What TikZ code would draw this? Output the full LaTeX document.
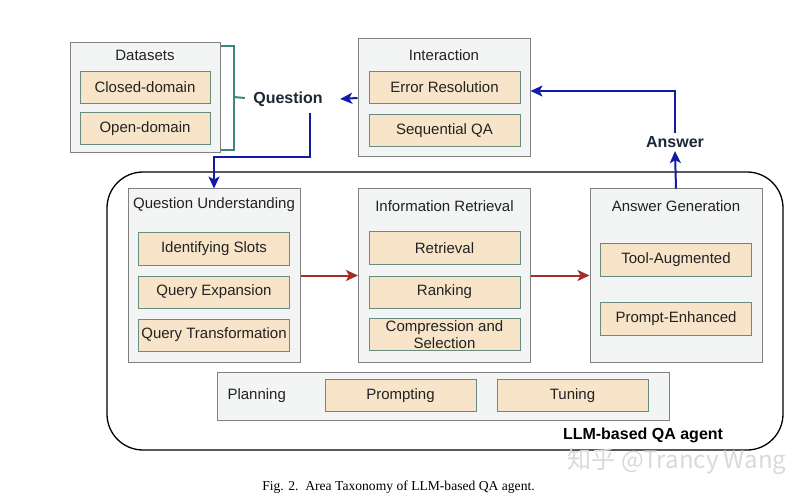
\documentclass[tikz,border=0pt]{standalone}
\usepackage{fontspec}
\setmainfont{Liberation Sans}
\newfontfamily\capfont{Liberation Serif}
\newfontfamily\cjk{Noto Sans CJK SC}
\usetikzlibrary{arrows.meta}
\definecolor{boxgray}{RGB}{243,244,244}
\definecolor{edgegray}{RGB}{128,128,128}
\definecolor{itemfill}{RGB}{248,228,200}
\definecolor{itemedge}{RGB}{105,140,128}
\definecolor{txtdark}{RGB}{34,34,34}
\definecolor{navy}{RGB}{28,40,56}
\definecolor{arrblue}{RGB}{16,28,165}
\definecolor{arrred}{RGB}{165,45,40}
\definecolor{brkteal}{RGB}{60,135,125}

\begin{document}
\begin{tikzpicture}[x=1pt,y=-1pt,
  font=\fontsize{15}{17}\selectfont,text=txtdark,
  grp/.style={draw=edgegray,fill=boxgray,line width=1pt,inner sep=0pt,
    minimum width=172pt,minimum height=173pt},
  item/.style={draw=itemedge,fill=itemfill,line width=1pt,inner sep=0pt,
    minimum width=151pt,minimum height=32pt,align=center},
  tag/.style={font=\fontsize{16}{18}\selectfont\bfseries,text=navy},
  bluearr/.style={draw=arrblue,line width=2pt,-{Stealth[length=12pt,width=11pt,inset=3pt]}},
  redarr/.style={draw=arrred,line width=2pt,-{Stealth[length=12pt,width=11pt,inset=3pt]}}]
\useasboundingbox (0,0) rectangle (812,500);
% ---- 外框 LLM-based QA agent ----
\node[draw=black,line width=1.3pt,rounded corners=36pt,minimum width=676pt,
  minimum height=278pt] (agent) at (445,311) {};
\node[tag,text=black] (agentlbl) at (643,435) {LLM-based QA agent};
% ---- Datasets ----
\node[grp,minimum width=150pt,minimum height=110pt] (ds) at (145,98) {};
\node (dstitle) at (145,55) {Datasets};
\foreach \t/\y [count=\i] in {Closed-domain/87.5,Open-domain/129}{
  \node[item,minimum width=130pt] (ds\i) at (145,\y) {\t};}
\node[tag] (q) at (288,99) {Question};
\draw[brkteal,line width=2pt] ([yshift=-4pt]ds.north east) -- ++(13,0)
  -- ([xshift=13pt,yshift=3pt]ds.south east) -- ([yshift=3pt]ds.south east);
\draw[brkteal,line width=2pt] ([xshift=13pt,yshift=1pt]ds.east) -- ([xshift=-5pt,yshift=1pt]q.west);
% ---- Interaction ----
\node[grp,minimum height=118pt] (inter) at (444,98) {};
\node (intertitle) at (444,55) {Interaction};
\foreach \t/\y [count=\i] in {Error Resolution/87.5,Sequential QA/131}{
  \node[item] (inter\i) at (444.5,\y) {\t};}
\node[tag] (ans) at (675,142) {Answer};
% ---- 三个阶段 ----
\node[grp] (qu) at (214,275.5) {};
\node (qutitle) at (214,205) {Question Understanding};
\foreach \t/\y [count=\i] in {Identifying Slots/249,Query Expansion/292,Query Transformation/335}{
  \node[item] (qu\i) at (214,\y) {\t};}
\node[grp] (ir) at (444.5,275.5) {};
\node (irtitle) at (444.5,206) {Information Retrieval};
\foreach \t/\y [count=\i] in {Retrieval/248,Ranking/292,{Compression and\\Selection}/334.5}{
  \node[item] (ir\i) at (444.5,\y) {\t};}
\node[grp] (ag) at (676,275.5) {};
\node (agtitle) at (676,206) {Answer Generation};
\foreach \t/\y [count=\i] in {Tool-Augmented/259.5,Prompt-Enhanced/318.5}{
  \node[item,minimum height=33pt] (ag\i) at (676,\y) {\t};}
% ---- Planning ----
\node[grp,minimum width=452pt,minimum height=48pt] (plan) at (443,396) {};
\node[anchor=west] (plantitle) at (224,396) {Planning};
\node[item] (plan1) at (400.5,395.5) {Prompting};
\node[item] (plan2) at (572.5,395.5) {Tuning};
% ---- 箭头 ----
\draw[redarr] (qu.east) -- (ir.west);
\draw[redarr] (ir.east) -- (ag.west);
\coordinate (qbend) at (310,157);
\draw[bluearr] ([xshift=22pt,yshift=-3pt]q.south) -- (qbend) -| (qu.north);
\draw[bluearr] (inter.west) -- ([xshift=14pt]q.east);
\draw[bluearr] (ag.north) -- (ans.south);
\draw[bluearr] (ans.north) |- ([yshift=7pt]inter.east);
% ---- 图注 ----
\node[font=\fontsize{13.6}{16}\capfont,text=black] (cap) at (398.5,487)
  {Fig. 2.\ \ Area Taxonomy of LLM-based QA agent.};
\node[font=\fontsize{24}{26}\cjk,text=gray!30] (mark) at (677,461) {知乎 @Trancy Wang};
\end{tikzpicture}
\end{document}
